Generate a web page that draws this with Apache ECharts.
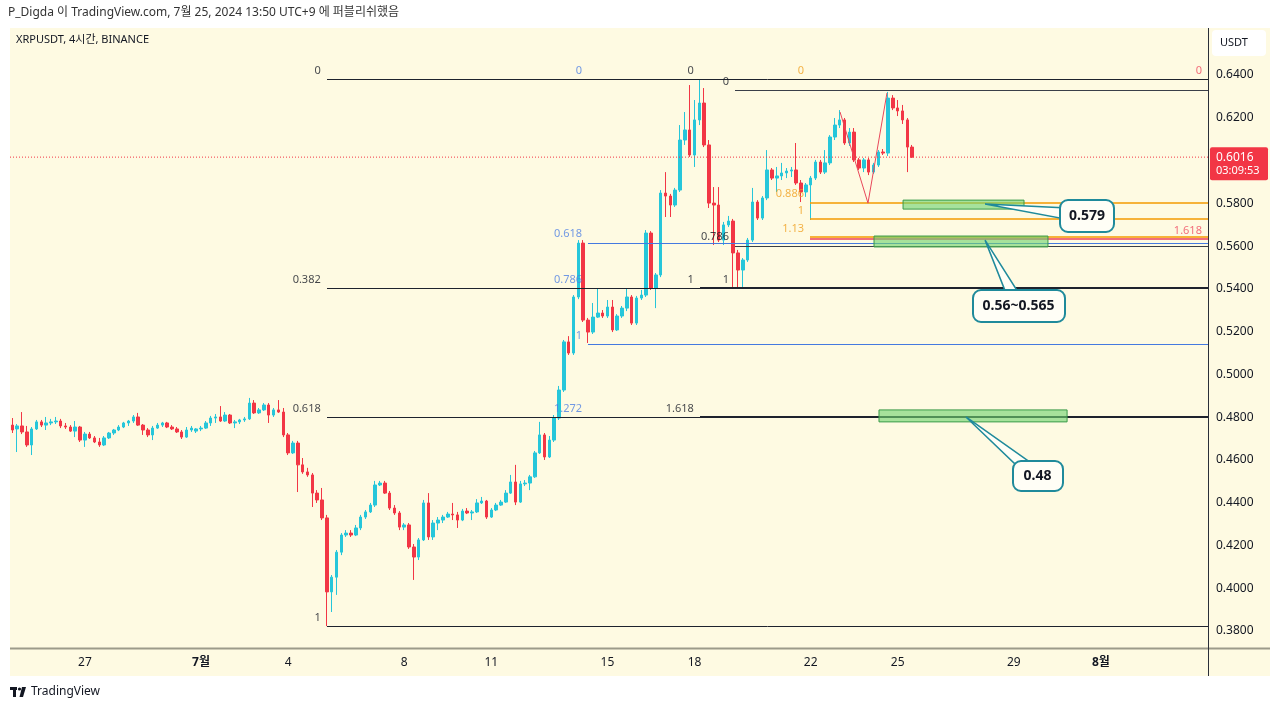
<!DOCTYPE html>
<html><head><meta charset="utf-8">
<script src="https://cdn.jsdelivr.net/npm/echarts@6/dist/echarts.min.js"></script>
<style>
html,body{margin:0;padding:0;background:#fff;}
#wrap{position:relative;width:1280px;height:709px;background:#fff;}
#panel{position:absolute;left:10px;top:28px;width:1260px;height:648px;background:#fefae2;}
#c{position:absolute;left:0;top:0;width:1280px;height:709px;}
</style>
</head><body><div id="wrap"><div id="panel"></div><div id="c"></div></div>
<script>
// ---- data: XRPUSDT 4h bars, x = hours since 2024-07-01 00:00 (UTC+9) ----
const FIRST_HOUR = -156;
const BAR_HOURS = 4;
const opens = [
.4763,.4745,.4759,.4731,.4670,.4745,.4778,.4763,.4773,.4778,
.4782,.4759,.4754,.4735,.4754,.4693,.4721,.4703,.4684,.4670,
.4703,.4726,.4740,.4754,.4773,.4782,.4801,.4763,.4740,.4717,
.4749,.4763,.4773,.4754,.4745,.4731,.4707,.4740,.4735,.4745,
.4749,.4773,.4796,.4801,.4782,.4810,.4773,.4778,.4787,.4792,
.4866,.4820,.4834,.4857,.4810,.4834,.4824,.4717,.4633,.4679,
.4577,.4544,.4530,.4445,.4413,.4329,.3983,.4052,.4169,.4249,
.4258,.4249,.4282,.4333,.4357,.4389,.4483,.4492,.4445,.4375,
.4352,.4286,.4296,.4193,.4146,.4226,.4399,.4240,.4305,.4319,
.4333,.4347,.4343,.4319,.4361,.4352,.4357,.4399,.4408,.4333,
.4366,.4389,.4403,.4445,.4497,.4403,.4488,.4492,.4521,.4633,
.4717,.4614,.4693,.4796,.4927,.5152,.5100,.5362,.5614,.5254,
.5198,.5268,.5287,.5273,.5315,.5208,.5273,.5310,.5362,.5240,
.5357,.5371,.5661,.5404,.5465,.5848,.5834,.5792,.5862,.6096,
.6143,.6026,.6190,.6269,.6073,.5801,.5792,.5628,.5699,.5717,
.5568,.5488,.5535,.5628,.5806,.5731,.5825,.5956,.5918,.5928,
.5942,.5951,.5956,.5895,.5853,.5886,.5918,.5993,.5946,.5989,
.6110,.6166,.6190,.6082,.6133,.6003,.5965,.6003,.5946,.5979,
.6040,.6035,.6292,.6246,.6232,.6190,.6063];
const closes = [
.4740,.4759,.4731,.4670,.4745,.4778,.4763,.4773,.4778,.4782,
.4759,.4754,.4735,.4754,.4693,.4721,.4703,.4684,.4670,.4703,
.4726,.4740,.4754,.4773,.4782,.4801,.4763,.4740,.4717,.4749,
.4763,.4773,.4754,.4745,.4731,.4707,.4740,.4749,.4745,.4749,
.4773,.4796,.4801,.4782,.4810,.4773,.4778,.4787,.4792,.4866,
.4820,.4834,.4857,.4810,.4834,.4824,.4717,.4633,.4679,.4577,
.4544,.4530,.4445,.4413,.4329,.3983,.4052,.4169,.4249,.4258,
.4249,.4282,.4333,.4357,.4389,.4483,.4492,.4445,.4375,.4352,
.4286,.4296,.4193,.4146,.4226,.4399,.4240,.4305,.4319,.4333,
.4347,.4343,.4319,.4361,.4352,.4357,.4399,.4408,.4333,.4366,
.4389,.4403,.4445,.4497,.4403,.4488,.4492,.4521,.4633,.4717,
.4614,.4693,.4796,.4927,.5152,.5100,.5362,.5614,.5254,.5198,
.5268,.5287,.5273,.5315,.5208,.5273,.5310,.5362,.5240,.5357,
.5371,.5661,.5404,.5465,.5848,.5834,.5792,.5862,.6096,.6143,
.6026,.6190,.6269,.6073,.5801,.5792,.5628,.5699,.5717,.5568,
.5488,.5535,.5628,.5806,.5731,.5825,.5956,.5918,.5928,.5942,
.5951,.5956,.5895,.5853,.5886,.5918,.5993,.5946,.5989,.6110,
.6166,.6190,.6082,.6133,.6003,.5965,.6003,.5946,.5979,.6040,
.6035,.6292,.6246,.6232,.6190,.6063,.6016];
const lows = [
.4726,.4637,.4721,.4661,.4623,.4740,.4754,.4740,.4763,.4768,
.4749,.4745,.4731,.4707,.4684,.4661,.4698,.4679,.4661,.4665,
.4698,.4717,.4735,.4749,.4759,.4773,.4759,.4717,.4707,.4693,
.4745,.4754,.4749,.4740,.4726,.4698,.4703,.4731,.4726,.4735,
.4745,.4759,.4773,.4778,.4778,.4768,.4749,.4768,.4778,.4787,
.4815,.4815,.4829,.4773,.4801,.4820,.4707,.4623,.4628,.4450,
.4535,.4521,.4380,.4399,.4319,.3823,.3889,.3969,.4155,.4240,
.4240,.4244,.4272,.4324,.4352,.4380,.4478,.4441,.4366,.4343,
.4272,.4272,.4184,.4039,.4132,.4221,.4226,.4226,.4272,.4305,
.4329,.4319,.4282,.4314,.4347,.4319,.4352,.4394,.4324,.4329,
.4361,.4385,.4399,.4441,.4389,.4399,.4478,.4459,.4516,.4628,
.4600,.4609,.4684,.4787,.4918,.5091,.5091,.5352,.5245,.5147,
.5189,.5264,.5264,.5264,.5198,.5203,.5264,.5296,.5231,.5231,
.5348,.5362,.5395,.5310,.5455,.5736,.5736,.5783,.5853,.6073,
.6017,.5970,.6166,.6063,.5778,.5605,.5619,.5605,.5689,.5409,
.5404,.5409,.5526,.5619,.5722,.5722,.5815,.5909,.5853,.5909,
.5918,.5923,.5886,.5806,.5830,.5722,.5909,.5937,.5937,.5979,
.6096,.6152,.6073,.6068,.5993,.5956,.5946,.5932,.5937,.5970,
.6026,.6021,.6236,.6208,.6171,.5946,.6012];
const highs = [
.4796,.4768,.4824,.4759,.4754,.4787,.4787,.4801,.4792,.4801,
.4792,.4773,.4763,.4782,.4759,.4731,.4731,.4712,.4703,.4712,
.4731,.4745,.4763,.4778,.4787,.4810,.4820,.4768,.4749,.4759,
.4773,.4778,.4778,.4763,.4754,.4740,.4754,.4759,.4749,.4759,
.4782,.4806,.4815,.4852,.4824,.4815,.4787,.4792,.4801,.4890,
.4880,.4843,.4866,.4866,.4843,.4880,.4843,.4726,.4689,.4689,
.4609,.4563,.4539,.4459,.4469,.4343,.4062,.4179,.4258,.4272,
.4272,.4296,.4343,.4366,.4399,.4502,.4502,.4502,.4455,.4389,
.4361,.4305,.4305,.4207,.4235,.4413,.4445,.4319,.4333,.4343,
.4357,.4399,.4357,.4371,.4375,.4366,.4417,.4427,.4413,.4375,
.4399,.4413,.4459,.4530,.4577,.4502,.4506,.4530,.4642,.4778,
.4726,.4712,.4810,.4946,.5161,.5179,.5371,.5628,.5628,.5264,
.5334,.5404,.5301,.5348,.5348,.5282,.5320,.5404,.5371,.5367,
.5395,.5675,.5670,.5474,.5862,.5946,.5844,.5872,.6166,.6227,
.6353,.6283,.6381,.6339,.6096,.5876,.5876,.5713,.5741,.5727,
.5582,.5544,.5638,.5872,.5815,.5834,.6049,.5965,.5970,.5989,
.5965,.5970,.6082,.5909,.5895,.5928,.6003,.6003,.6049,.6119,
.6199,.6236,.6199,.6152,.6152,.6012,.6012,.6012,.5989,.6049,
.6054,.6321,.6306,.6283,.6260,.6199,.6073];
const lastPrice = 0.6016;
const countdown = '03:09:53';
const xTickHours = [-96, 0, 72, 168, 240, 336, 408, 504, 576, 672, 744];
const xTickLabels = ['27', '7월', '4', '8', '11', '15', '18', '22', '25', '29', '8월'];
const yTicks = [0.38,0.40,0.42,0.44,0.46,0.48,0.50,0.52,0.54,0.56,0.58,0.60,0.62,0.64];
const X_MIN = -157.9, X_MAX = 832.5, Y_MIN = 0.37207, Y_MAX = 0.66198;
// fib drawings: [group, level label, price, fromHour, toHour (null = label only, line hidden under another)]
const fibLines = [
 ['orange','0',0.6381,503.5,null],['orange','0.886',0.5802,503.5,X_MAX],['orange','1',0.5727,503.5,X_MAX],['orange','1.13',0.5642,503.5,X_MAX],
 ['red','0',0.6381,503.5,null],['red','1.618',0.5633,503.5,X_MAX],
 ['blue','0',0.6381,320,412.5],['blue','0.618',0.5615,320,X_MAX],['blue','0.786',0.5404,320,412.5],['blue','1',0.5142,320,X_MAX],['blue','1.272',0.4800,320,412.5],
 ['black3','0',0.6330,441.5,X_MAX],['black3','0.786',0.5602,441.5,X_MAX],['black3','1',0.5404,441.5,null],
 ['black','0',0.6381,104,X_MAX],['black','0.382',0.5404,104,X_MAX],['black','0.618',0.4800,104,X_MAX],['black','1',0.3823,104,X_MAX],
 ['black2','0',0.6381,412.5,null],['black2','1',0.5404,412.5,X_MAX],['black2','1.618',0.4800,412.5,X_MAX]
];
const zigHours = [528.3, 551.4, 567.1];
const zigPrices = [0.6227, 0.5801, 0.6316];
// support zones: [fromHour, toHour, topPrice, bottomPrice]
const zones = [[580.4,680.4,0.5815,0.5773],[556.4,700.2,0.5647,0.5596],[560.5,716.0,0.4834,0.4778]];
// callouts: text, target [hour, price], box centre [hour, price]
const callouts = [
 {text:'0.579', target:[648.2,0.5797], center:[732.5,0.5741]},
 {text:'0.56~0.565', target:[648.2,0.5628], center:[675.9,0.5320]},
 {text:'0.48', target:[632.4,0.4801], center:[691.6,0.4525]}
];

// ---- styles ----
const FONT = "'Noto Sans','Noto Sans CJK KR',sans-serif";
const UP = '#26c6da', DOWN = '#f23645', INK = '#131722';
const groupStyle = {
  black:{color:'#1e222d', width:1, label:INK},
  blue:{color:'#4479e0', width:1, label:'#4d7fe3'},
  black2:{color:'#1e222d', width:2, label:INK},
  black3:{color:'#3a3e48', width:1, label:INK},
  orange:{color:'#f39a00', width:1.5, label:'#f0a020'},
  red:{color:'#ec3f58', width:1.5, label:'#ef4a60', right:true}
};
const calloutSize = {'0.579':[54,32],'0.56~0.565':[92,32],'0.48':[50,30]};

const candleData = opens.map((o, i) => [FIRST_HOUR + BAR_HOURS * i, o, closes[i], lows[i], highs[i]]);

const series = [{
  type:'candlestick', data:candleData, encode:{x:0, y:[1,2,3,4]}, barWidth:3, z:2,
  itemStyle:{color:UP, color0:DOWN, borderColor:UP, borderColor0:DOWN, borderWidth:1}
}];
series.push({
  type:'line', data:[[X_MIN,lastPrice],[X_MAX,lastPrice]], symbol:'none', z:3, silent:true,
  lineStyle:{color:DOWN, width:1, type:[1,2]},
  markArea:{silent:true, z:6, itemStyle:{color:'rgba(112,212,112,0.62)', borderColor:'#3a9a48', borderWidth:1},
    data: zones.map(z => [{coord:[z[0], z[2]]},{coord:[z[1], z[3]]}])}
});
series.push({
  type:'scatter', z:7, silent:true, clip:false, symbolSize:0.1, itemStyle:{color:'rgba(0,0,0,0)'},
  data: fibLines.map(f => {
    const st = groupStyle[f[0]];
    return {value:[st.right ? X_MAX : f[3], f[2]],
      label:{show:true, formatter:f[1], color:st.label,
        position:[-6,-3], align:'right', verticalAlign:'bottom', fontSize:11, fontFamily:FONT}};
  })
});
series.push({type:'line', data:zigHours.map((h,i)=>[h, zigPrices[i]]), symbol:'none', z:5, silent:true,
  lineStyle:{color:'#e8475a', width:1}});

const chart = echarts.init(document.getElementById('c'));
chart.setOption({
  animation:false, backgroundColor:'transparent',
  grid:{left:10, right:72, top:28, bottom:61, show:false},
  xAxis:{type:'value', min:X_MIN, max:X_MAX, splitLine:{show:false}, axisLine:{show:false}, axisTick:{show:false},
    axisLabel:{customValues:xTickHours, margin:9, color:INK, fontSize:12, fontFamily:FONT,
      formatter:v => { const t = xTickLabels[xTickHours.indexOf(v)] || ''; return t.indexOf('월') >= 0 ? '{b|' + t + '}' : t; },
      rich:{b:{fontWeight:'bold', fontSize:12, color:INK, fontFamily:FONT}}}},
  yAxis:{type:'value', position:'right', min:Y_MIN, max:Y_MAX, scale:true, splitLine:{show:false}, axisLine:{show:false}, axisTick:{show:false},
    axisLabel:{customValues:yTicks, margin:8, color:INK, fontSize:12, fontFamily:FONT, formatter:v => v.toFixed(4)}},
  series:series
});

// overlays placed through the chart's coordinate system
const px = v => chart.convertToPixel({gridIndex:0}, v);
const g = [];
fibLines.forEach(f => {
  if (f[4] == null) return;
  const st = groupStyle[f[0]];
  const a = px([f[3], f[2]]), b = px([f[4], f[2]]);
  const y = st.width === 1 ? Math.round(a[1]) + 0.5 : Math.round(a[1]);
  g.push({type:'line', shape:{x1:Math.round(a[0]), y1:y, x2:Math.round(b[0]), y2:y}, style:{stroke:st.color, lineWidth:st.width}, z:3, silent:true});
});
g.push({type:'line', shape:{x1:10,y1:648.5,x2:1270,y2:648.5}, style:{stroke:'#9c9a8a', lineWidth:2}, z:50});
g.push({type:'line', shape:{x1:1208.5,y1:28,x2:1208.5,y2:676}, style:{stroke:'#2a2e39', lineWidth:1}, z:50});
g.push({type:'text', x:8, y:13, style:{text:'P_Digda 이 TradingView.com, 7월 25, 2024 13:50 UTC+9 에 퍼블리쉬했음', fill:'#333', fontSize:12, fontFamily:FONT, verticalAlign:'middle'}, z:50});
g.push({type:'text', x:16, y:40, style:{text:'XRPUSDT, 4시간, BINANCE', fill:INK, fontSize:11, fontFamily:FONT, verticalAlign:'middle'}, z:50});
g.push({type:'rect', shape:{x:1212,y:30,width:54,height:26,r:4}, style:{fill:'#ffffff'}, z:50});
g.push({type:'text', x:1220, y:43, style:{text:'USDT', fill:INK, fontSize:11, fontFamily:FONT, verticalAlign:'middle'}, z:51});
const lp = px([X_MAX, lastPrice]);
g.push({type:'rect', shape:{x:1210,y:lp[1]-10,width:58,height:33,r:2}, style:{fill:DOWN}, z:50});
g.push({type:'text', x:1216, y:lp[1], style:{text:lastPrice.toFixed(4), fill:'#fff', fontSize:12, fontFamily:FONT, verticalAlign:'middle'}, z:51});
g.push({type:'text', x:1216, y:lp[1]+14, style:{text:countdown, fill:'#fff', fontSize:11, fontFamily:FONT, verticalAlign:'middle'}, z:51});
callouts.forEach(c => {
  const t = px(c.target), m = px(c.center), sz = calloutSize[c.text];
  const dx = m[0]-t[0], dy = m[1]-t[1], L = Math.hypot(dx,dy), nx = -dy/L*7, ny = dx/L*7;
  g.push({type:'polygon', shape:{points:[[t[0],t[1]],[m[0]+nx,m[1]+ny],[m[0]-nx,m[1]-ny]]}, style:{fill:'#fffef6', stroke:'#1f8a9b', lineWidth:1.5}, z:60});
  g.push({type:'rect', shape:{x:Math.round(m[0]-sz[0]/2), y:Math.round(m[1]-sz[1]/2), width:sz[0], height:sz[1], r:8}, style:{fill:'#fffef6', stroke:'#1f8a9b', lineWidth:2}, z:61});
  g.push({type:'text', x:m[0], y:m[1], style:{text:c.text, fill:INK, fontSize:14, fontWeight:'bold', fontFamily:FONT, align:'center', verticalAlign:'middle'}, z:62});
});
g.push({type:'rect', shape:{x:10,y:687,width:7,height:3}, style:{fill:INK}, z:50});
g.push({type:'rect', shape:{x:13,y:687,width:3,height:10}, style:{fill:INK}, z:50});
g.push({type:'circle', shape:{cx:19.5,cy:689,r:1.6}, style:{fill:INK}, z:50});
g.push({type:'polygon', shape:{points:[[22,687],[26,687],[23,697],[19.5,697]]}, style:{fill:INK}, z:50});
g.push({type:'text', x:31, y:692, style:{text:'TradingView', fill:INK, fontSize:12, fontFamily:FONT, verticalAlign:'middle'}, z:50});
chart.setOption({graphic:{elements:g}});
</script></body></html>
